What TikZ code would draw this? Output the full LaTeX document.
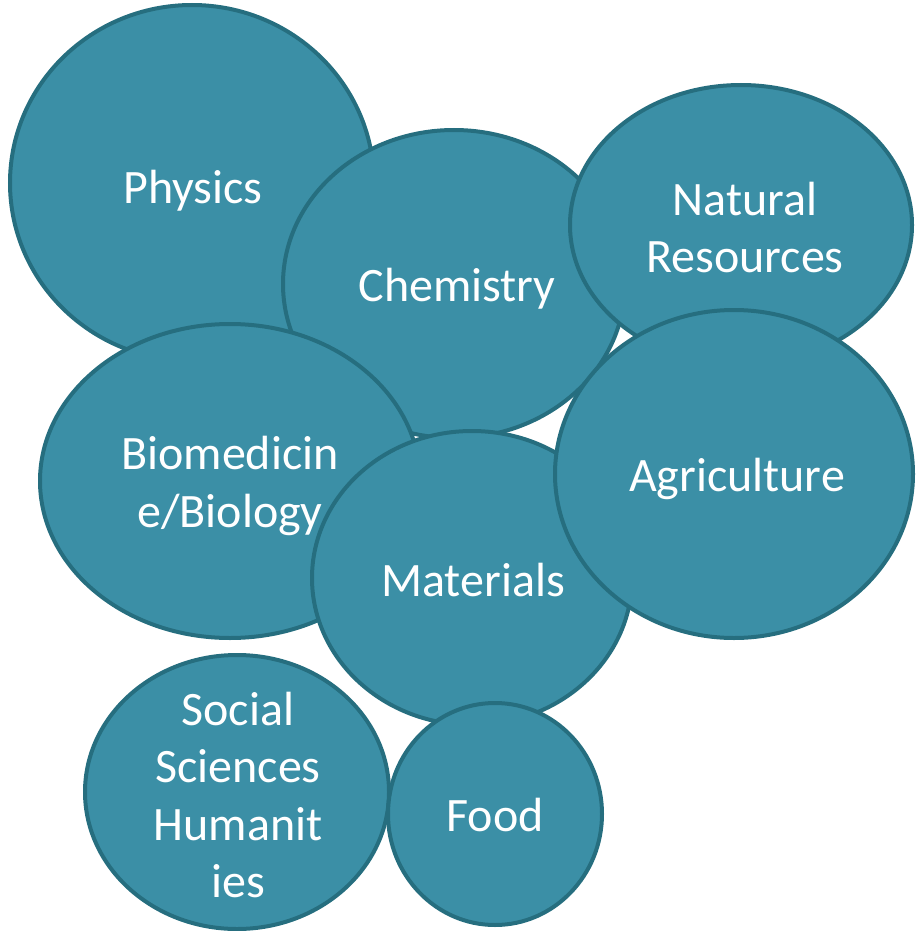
\documentclass[tikz,border=0pt]{standalone}
\usepackage{fontspec}
\setmainfont{Carlito}
\usetikzlibrary{shapes.geometric}
\definecolor{bubfill}{RGB}{59,143,166}
\definecolor{bubedge}{RGB}{38,110,127}
\tikzset{
  bub/.style={ellipse, draw=bubedge, fill=bubfill, line width=4pt, inner sep=0pt},
  lbl/.style={text=white, align=center, inner sep=0pt, font=\fontsize{48}{57.5}\selectfont}
}
\begin{document}
\begin{tikzpicture}[x=1pt,y=-1pt]
\useasboundingbox (0,0) rectangle (915,931);
\node[bub, minimum width=364pt, minimum height=356pt] (phys) at (192,183) {};
\node[bub, minimum width=342pt, minimum height=308pt] (chem) at (454,284) {};
\node[bub, minimum width=342pt, minimum height=280pt] (natr) at (741,225) {};
\node[bub, minimum width=380pt, minimum height=314pt] (biom) at (230,481) {};
\node[bub, minimum width=320pt, minimum height=294pt] (matr) at (472,578) {};
\node[bub, minimum width=358pt, minimum height=328pt] (agri) at (734,474) {};
\node[bub, minimum width=304pt, minimum height=274pt] (socs) at (237,792) {};
\node[bub, minimum width=214pt, minimum height=222pt] (food) at (495,814) {};
\node[lbl] (tphys) at (193,191) {Physics};
\node[lbl] (tchem) at (457,289) {Chemistry};
\node[lbl] (tnatr) at (745,227.5) {Natural\\Resources};
\node[lbl] (tbiom) at (230,486) {Biomedicin\\e/Biology};
\node[lbl] (tmatr) at (473,580) {Materials};
\node[lbl] (tagri) at (737,479) {Agriculture};
\node[lbl] (tsocs) at (238,795) {Social\\Sciences\\Humanit\\ies};
\node[lbl] (tfood) at (495,815) {Food};
\end{tikzpicture}
\end{document}
